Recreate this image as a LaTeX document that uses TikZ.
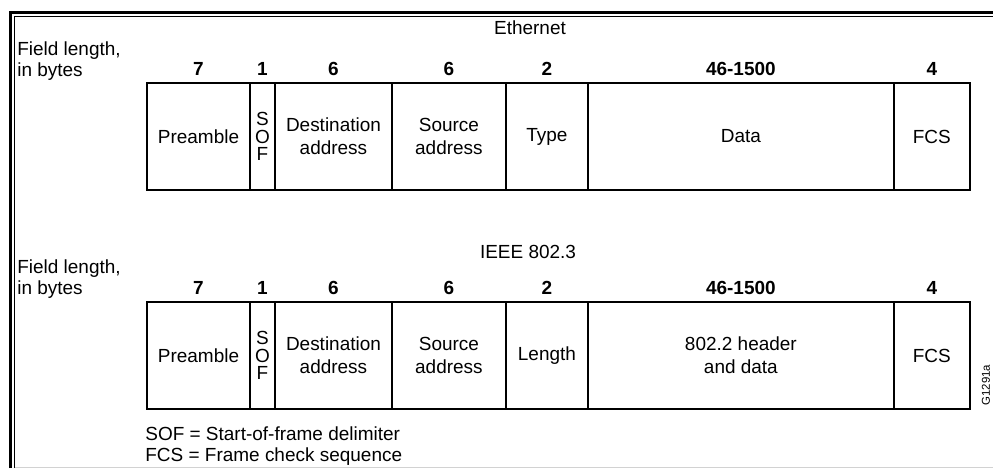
\documentclass[tikz,border=0pt]{standalone}
\usepackage{fontspec}
\setmainfont{Liberation Sans}
\usepackage{tikz}
\usetikzlibrary{positioning}

\begin{document}
\begin{tikzpicture}[
    x=0.02cm, y=-0.02cm,
    field/.style={rectangle, draw, line width=0.8pt, minimum height=2.14cm,
                  outer sep=0pt, inner sep=1pt, align=center,
                  font=\fontsize{10.8}{13}\selectfont},
    sofbox/.style={field, minimum width=0.5cm, font=\fontsize{10.8}{10}\selectfont},
    count/.style={font=\fontsize{10.8}{13}\selectfont\bfseries, inner sep=1pt},
    title/.style={font=\fontsize{10.8}{13}\selectfont, inner sep=0pt},
    note/.style={font=\fontsize{10.8}{12.3}\selectfont, align=left, inner sep=0pt, anchor=west},
]
\useasboundingbox (0,0) rectangle (993,470);

% Frame
\draw[line width=1.8pt] (10.5,468) -- (10.5,12.5) -- (993,12.5);
\draw[line width=0.5pt] (14.5,468) -- (14.5,16.8) -- (993,16.8);
\draw[gray!35, line width=0.6pt] (14.5,467.5) -- (993,467.5);

% Ethernet frame
\node[title] (ethtitle) at (530,28) {Ethernet};
\node[note] (ethlen) at (17,61) {Field length,\\in bytes};

\node[field, minimum width=2.06cm, anchor=north west] (epre) at (147,83) {Preamble};
\node[sofbox, right=0pt of epre] (esof) {S\\O\\F};
\node[field, minimum width=2.34cm, right=0pt of esof] (edst) {Destination\\address};
\node[field, minimum width=2.28cm, right=0pt of edst] (esrc) {Source\\address};
\node[field, minimum width=1.64cm, right=0pt of esrc] (etype) {Type};
\node[field, minimum width=6.12cm, right=0pt of etype] (edata) {Data};
\node[field, minimum width=1.52cm, right=0pt of edata] (efcs) {FCS};

\foreach \f/\n in {epre/7, esof/1, edst/6, esrc/6, etype/2, edata/46-1500, efcs/4} {
    \node[count, above=1mm of \f] (\f-n) {\n};
}

% IEEE 802.3 frame
\node[title] (ieeetitle) at (528,252) {IEEE 802.3};
\node[note] (ieeelen) at (17,279) {Field length,\\in bytes};

\node[field, minimum width=2.06cm, anchor=north west] (ipre) at (147,302) {Preamble};
\node[sofbox, right=0pt of ipre] (isof) {S\\O\\F};
\node[field, minimum width=2.34cm, right=0pt of isof] (idst) {Destination\\address};
\node[field, minimum width=2.28cm, right=0pt of idst] (isrc) {Source\\address};
\node[field, minimum width=1.64cm, right=0pt of isrc] (ilen) {Length};
\node[field, minimum width=6.12cm, right=0pt of ilen] (idata) {802.2 header\\and data};
\node[field, minimum width=1.52cm, right=0pt of idata] (ifcs) {FCS};

\foreach \f/\n in {ipre/7, isof/1, idst/6, isrc/6, ilen/2, idata/46-1500, ifcs/4} {
    \node[count, above=1mm of \f] (\f-n) {\n};
}

% Legend
\node[note] (legend) at (145,446) {SOF = Start-of-frame delimiter\\FCS = Frame check sequence};
\node[font=\fontsize{6.5}{7}\selectfont, rotate=90, inner sep=0pt] (code) at (986,385) {G1291a};

\end{tikzpicture}
\end{document}
